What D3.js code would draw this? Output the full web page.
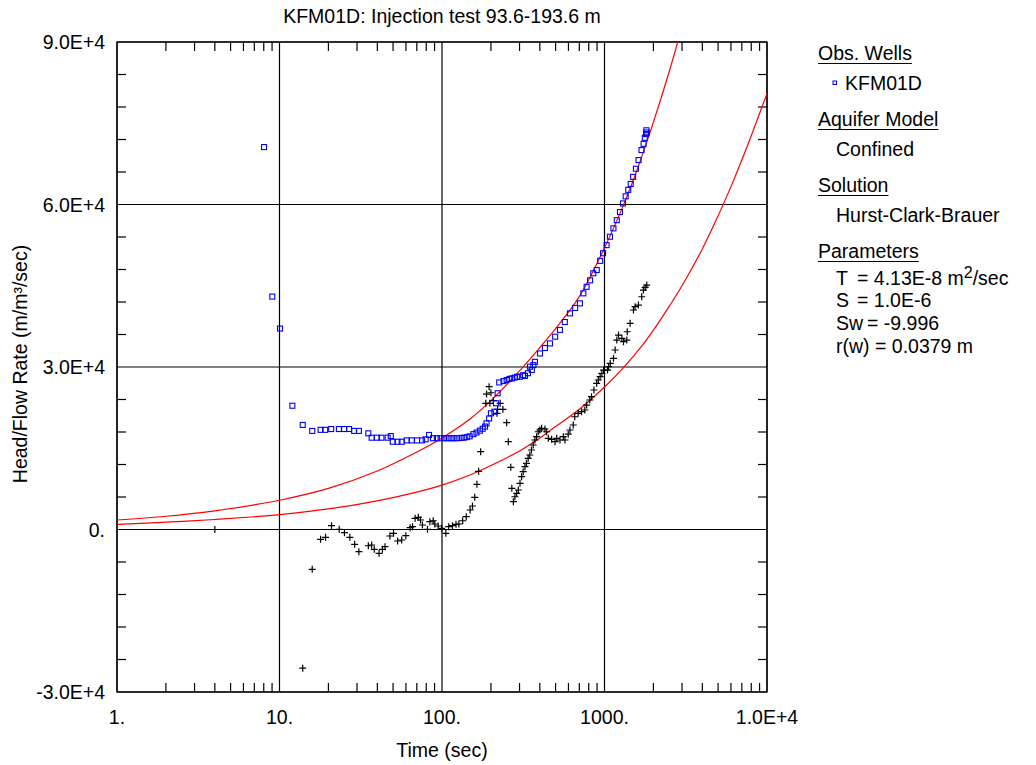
<!DOCTYPE html>
<html>
<head>
<meta charset="utf-8">
<script src="https://cdn.jsdelivr.net/npm/d3@7"></script>
<style>
  body { margin: 0; background: #fff; }
  svg text { font-family: "Liberation Sans", Arial, sans-serif; fill: #000; }
</style>
</head>
<body>
<svg id="chart" width="1036" height="765"></svg>
<script>
/* ------------------------- DATA ------------------------- */

// observed head/flow (blue squares): [time sec, value]
const obsData = [
  [8.03, 70600], [9.03, 43000], [10.07, 37100], [12.0, 22850], [13.9, 19300], [15.9, 18200],
  [17.9, 18400], [19.1, 18400], [20.8, 18550], [23.2, 18550], [25, 18550], [26.8, 18550],
  [28.8, 18200], [30.8, 18200], [35.2, 17750], [36.9, 16950], [39.8, 16950], [42.4, 16950],
  [46.3, 16950], [48.4, 17250], [49.8, 16200], [53.2, 16200], [56.5, 16200], [60.6, 16450],
  [65.2, 16450], [70.2, 16450], [75.4, 16450], [79.3, 16650], [83.2, 17450], [88, 16850],
  [93, 16850], [98, 16850], [103, 16850], [108, 16850], [113, 16850], [118, 16850],
  [124, 16850], [130, 16900], [136, 16950], [142, 17050], [148, 17200], [156, 17600],
  [163, 17900], [171, 18250], [178, 18600], [184, 19000], [188, 19600], [195, 20500],
  [200, 21450], [210, 21750], [215, 23300], [220, 25150], [225, 27150], [239, 27400],
  [250, 27600], [260, 27800], [270, 27900], [280, 28050], [290, 28200], [302, 28200],
  [316, 28500], [324, 28350], [338, 28850], [348, 30050], [357, 29450], [365, 30350],
  [373, 30950], [401, 32500], [430, 33500], [462, 34350], [497, 35600], [532, 36850],
  [570, 38300], [613, 39900], [660, 40900], [706, 41750], [741, 43600], [776, 44800],
  [815, 46000], [853, 47300], [896, 47900], [940, 49600], [980, 51000], [1030, 52500],
  [1080, 54050], [1135, 55600], [1190, 57100], [1245, 58600], [1300, 60200], [1350, 61500],
  [1400, 62700], [1450, 63800], [1500, 65100], [1560, 66600], [1620, 68200], [1690, 70050],
  [1740, 71200], [1770, 72300], [1800, 73000], [1810, 73700], [1820, 73300]
]

// derivative (black crosses): [time sec, value]
const derivData = [
  [4, 0], [13.9, -25600], [15.9, -7350], [17.9, -1810], [19.2, -1440], [20.9, 700],
  [23.3, 40], [25.1, -590], [27.1, -1440], [29.0, -2730], [30.8, -4100], [35.2, -3000],
  [36.9, -2860], [38.3, -3660], [41.0, -4400], [43.0, -3660], [44.6, -3170], [47.8, -1200],
  [50.3, -700], [53.3, -2120], [56.5, -1940], [59.9, -1140], [63.7, 330], [65.9, 520],
  [68.3, 2070], [71.5, 2250], [73.7, 1750], [75.8, 830], [81.4, 40], [84.2, 1440],
  [88.3, 1620], [90.3, 1020], [94.7, 650], [99.5, 220], [105.6, -700], [110, 520],
  [116, 700], [122, 960], [127, 1020], [134, 1620], [141, 2360], [149, 3600], [154, 4340],
  [159, 5940], [164, 8340], [168, 10740], [173, 14360], [186, 23300], [188, 25010],
  [195, 26360], [197, 23300], [200, 25250], [207, 23780], [218, 21450], [220, 22190],
  [228, 23300], [237, 22190], [250, 19720], [256, 16210], [265, 11480], [269, 7600],
  [275, 5130], [281, 6050], [288, 6680], [295, 7290], [302, 8530], [309, 9750],
  [316, 10670], [324, 11590], [331, 12220], [339, 13140], [347, 13750], [355, 14680],
  [364, 15600], [373, 16520], [382, 17130], [391, 18050], [400, 18370], [410, 18680],
  [430, 18550], [440, 18050], [451, 16830], [473, 16650], [496, 16210], [508, 16830],
  [532, 16520], [558, 17130], [571, 16520], [598, 17600], [613, 18370], [642, 19290],
  [656, 20820], [688, 21450], [722, 21750], [757, 22060], [776, 22980], [812, 23910],
  [832, 24520], [861, 25750], [895, 26990], [916, 27600], [940, 28210], [963, 28830],
  [987, 29440], [1044, 29440], [1060, 30050], [1085, 30680], [1136, 31600], [1163, 33140],
  [1191, 34980], [1220, 35900], [1279, 35300], [1309, 34670], [1372, 34980], [1380, 36510],
  [1438, 38070], [1507, 40520], [1543, 41130], [1617, 41440], [1695, 42970], [1736, 44210],
  [1780, 44700], [1820, 45130]
]

// fitted model curve (upper red line)
const fitCurve = [
  [1, 1750], [2, 2450], [4, 3450], [7, 4550], [10, 5400], [20, 7600], [40, 10800],
  [70, 14300], [100, 16900], [150, 20500], [200, 23800], [300, 29300], [400, 33600],
  [500, 37100], [700, 43000], [1000, 52000], [1300, 59700], [1600, 66700], [2000, 75200],
  [2500, 84500], [3000, 92800], [3500, 100000]
]

// fitted derivative curve (lower red line)
const fitDerivCurve = [
  [1, 950], [2, 1350], [4, 1850], [7, 2350], [10, 2750], [20, 3800], [40, 5300],
  [70, 6900], [100, 8200], [150, 10100], [200, 11800], [300, 14500], [400, 16900],
  [500, 19000], [700, 22200], [1000, 26300], [1300, 29800], [1700, 33900], [2000, 36800],
  [2500, 41200], [3000, 45000], [4000, 51800], [5000, 57900], [6000, 63300],
  [7000, 68200], [8000, 72700], [9000, 76800], [10000, 80500]
]

const xTickLabels = ["1.", "10.", "100.", "1000.", "1.0E+4"]
const yTickValues = [-30000, 0, 30000, 60000, 90000]
const yTickLabels = ["-3.0E+4", "0.", "3.0E+4", "6.0E+4", "9.0E+4"]

const legendSections = [
  { head: "Obs. Wells", y: 60 },
  { head: "Aquifer Model", y: 126 },
  { head: "Solution", y: 192 },
  { head: "Parameters", y: 258 }
]
const legendLines = [
  { text: "KFM01D", y: 90, x: 845 },
  { text: "Confined", y: 156, x: 836 },
  { text: "Hurst-Clark-Brauer", y: 222, x: 836 }
]
const paramLabels = ["T", "S", "Sw", "r(w) = 0.0379 m"]
const paramValues = ["= 4.13E-8 m", "= 1.0E-6", "= -9.996", ""]

/* ------------------------- LAYOUT ------------------------- */

const svg = d3.select("#chart")
const pLeft = 117, pRight = 767, pTop = 42, pBottom = 692

const x = d3.scaleLog().domain([1, 10000]).range([pLeft, pRight])
const y = d3.scaleLinear().domain([-30000, 90000]).range([pBottom, pTop])

svg.append("rect").attr("width", 1036).attr("height", 765).attr("fill", "#fff")

svg.append("defs").append("clipPath").attr("id", "plotClip")
  .append("rect").attr("x", pLeft).attr("y", pTop)
  .attr("width", pRight - pLeft).attr("height", pBottom - pTop)

/* --------------------- GRID + TICKS --------------------- */

const grid = svg.append("g").attr("stroke", "#000").attr("stroke-width", 1.2)

function isDecade(t) { return Math.abs(Math.log10(t) - Math.round(Math.log10(t))) < 1e-9 }

// minor x ticks top & bottom, gridlines at decades
x.ticks().forEach(function (t) {
  if (isDecade(t)) {
    grid.append("line").attr("x1", x(t)).attr("x2", x(t)).attr("y1", pTop).attr("y2", pBottom)
  } else {
    grid.append("line").attr("x1", x(t)).attr("x2", x(t)).attr("y1", pBottom).attr("y2", pBottom - 9)
    grid.append("line").attr("x1", x(t)).attr("x2", x(t)).attr("y1", pTop).attr("y2", pTop + 9)
  }
})

d3.range(-30000, 90001, 6000).forEach(function (v) {
  if (v % 30000 === 0) {
    grid.append("line").attr("x1", pLeft).attr("x2", pRight).attr("y1", y(v)).attr("y2", y(v))
  } else {
    grid.append("line").attr("x1", pLeft).attr("x2", pLeft + 9).attr("y1", y(v)).attr("y2", y(v))
    grid.append("line").attr("x1", pRight).attr("x2", pRight - 9).attr("y1", y(v)).attr("y2", y(v))
  }
})

svg.append("rect").attr("x", pLeft).attr("y", pTop)
  .attr("width", pRight - pLeft).attr("height", pBottom - pTop)
  .attr("fill", "none").attr("stroke", "#000").attr("stroke-width", 1.3)

/* --------------------- LABELS --------------------- */

const fs = 19.5
x.ticks().filter(isDecade).forEach(function (t, i) {
  svg.append("text").attr("x", x(t)).attr("y", 724).attr("text-anchor", "middle")
    .attr("font-size", fs).text(xTickLabels[i])
})

yTickValues.forEach(function (v, i) {
  svg.append("text").attr("x", 105).attr("y", y(v) + 7).attr("text-anchor", "end")
    .attr("font-size", fs).text(yTickLabels[i])
})

svg.append("text").attr("x", 442).attr("y", 23).attr("text-anchor", "middle")
  .attr("font-size", fs).text("KFM01D: Injection test 93.6-193.6 m")

svg.append("text").attr("x", 442).attr("y", 757).attr("text-anchor", "middle")
  .attr("font-size", fs).text("Time (sec)")

svg.append("text").attr("transform", "translate(27,364) rotate(-90)")
  .attr("text-anchor", "middle").attr("font-size", fs).text("Head/Flow Rate (m/m³/sec)")

/* --------------------- CURVES --------------------- */

const line = d3.line().x(d => x(d[0])).y(d => y(d[1])).curve(d3.curveCatmullRom.alpha(0.5))
const plot = svg.append("g").attr("clip-path", "url(#plotClip)")

plot.append("path").datum(fitDerivCurve).attr("d", line)
  .attr("fill", "none").attr("stroke", "#ff0000").attr("stroke-width", 1.2)
plot.append("path").datum(fitCurve).attr("d", line)
  .attr("fill", "none").attr("stroke", "#ff0000").attr("stroke-width", 1.2)

/* --------------------- POINTS --------------------- */

plot.append("g").selectAll("path").data(derivData).enter().append("path")
  .attr("d", d => `M${x(d[0]) - 3.5},${y(d[1])}h7M${x(d[0])},${y(d[1]) - 3.5}v7`)
  .attr("stroke", "#000").attr("stroke-width", 1.2).attr("fill", "none")

plot.append("g").selectAll("rect").data(obsData).enter().append("rect")
  .attr("x", d => x(d[0]) - 2.5).attr("y", d => y(d[1]) - 2.5)
  .attr("width", 5).attr("height", 5)
  .attr("fill", "none").attr("stroke", "#0000ff").attr("stroke-width", 1.1)

/* --------------------- LEGEND --------------------- */

const legend = svg.append("g").attr("font-size", fs)

legendSections.forEach(function (s) {
  let t = legend.append("text").attr("x", 818).attr("y", s.y).text(s.head)
  let w = t.node().getComputedTextLength()
  legend.append("line").attr("x1", 818).attr("x2", 818 + w)
    .attr("y1", s.y + 3.5).attr("y2", s.y + 3.5).attr("stroke", "#000").attr("stroke-width", 1)
})

legendLines.forEach(function (l) {
  legend.append("text").attr("x", l.x).attr("y", l.y).text(l.text)
})

legend.append("rect").attr("x", 833).attr("y", 81).attr("width", 3.5).attr("height", 3.5)
  .attr("fill", "none").attr("stroke", "#0000ff").attr("stroke-width", 1)

const paramY = [285, 307, 330, 353]
const paramX = [857, 857, 867, 0]
paramLabels.forEach(function (lab, i) {
  legend.append("text").attr("x", 836).attr("y", paramY[i]).text(lab)
  if (paramValues[i]) {
    let t = legend.append("text").attr("x", paramX[i]).attr("y", paramY[i]).text(paramValues[i])
    if (i === 0) {
      t.append("tspan").attr("dy", -7).attr("font-size", 16).text("2")
      t.append("tspan").attr("dy", 7).text("/sec")
    }
  }
})
</script>
</body>
</html>
